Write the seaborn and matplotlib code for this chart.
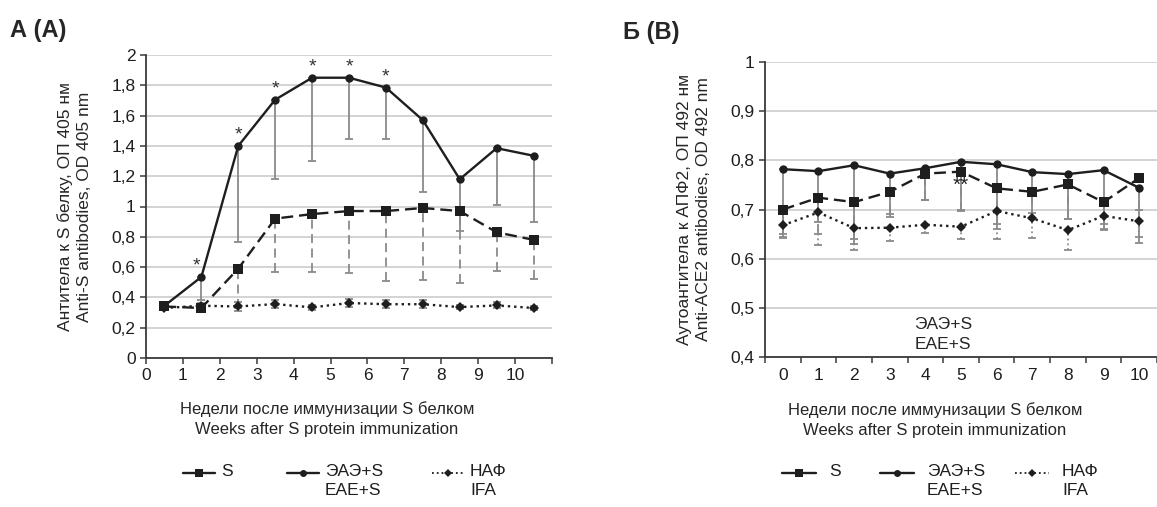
import numpy as np
import pandas as pd
import seaborn as sns
import matplotlib.pyplot as plt
from matplotlib.lines import Line2D

sns.set_theme(style="white")
plt.rcParams['font.family'] = ['Liberation Sans', 'DejaVu Sans']

W, H = 1157, 507

# ---- panel A: anti-S antibodies ----
weeks_a = [0.5, 1.5, 2.5, 3.5, 4.5, 5.5, 6.5, 7.5, 8.5, 9.5, 10.5]
s_a = [0.34, 0.33, 0.59, 0.92, 0.95, 0.97, 0.97, 0.99, 0.97, 0.83, 0.78]
s_a_low = [0.34, 0.33, 0.33, 0.57, 0.57, 0.56, 0.51, 0.515, 0.495, 0.574, 0.521]
eae_a = [0.345, 0.535, 1.40, 1.705, 1.85, 1.85, 1.785, 1.57, 1.18, 1.385, 1.335]
eae_a_low = [0.345, 0.385, 0.763, 1.18, 1.30, 1.444, 1.447, 1.097, 0.835, 1.013, 0.899]
ifa_a = [0.33, 0.345, 0.34, 0.356, 0.334, 0.363, 0.355, 0.355, 0.336, 0.347, 0.33]
ifa_a_err = [0.015, 0.02, 0.03, 0.025, 0.015, 0.025, 0.025, 0.025, 0.015, 0.02, 0.015]
stars_a = [1.5, 2.5, 3.5, 4.5, 5.5, 6.5]

# ---- panel B: anti-ACE2 autoantibodies ----
weeks_b = [0, 1, 2, 3, 4, 5, 6, 7, 8, 9, 10]
s_b = [0.700, 0.724, 0.715, 0.736, 0.773, 0.777, 0.743, 0.736, 0.751, 0.715, 0.764]
s_b_low = [0.65, 0.651, 0.64, 0.69, 0.719, 0.697, 0.67, 0.68, 0.680, 0.67, 0.70]
eae_b = [0.782, 0.778, 0.790, 0.773, 0.784, 0.797, 0.792, 0.776, 0.772, 0.780, 0.744]
eae_b_low = [0.645, 0.675, 0.63, 0.684, 0.72, 0.70, 0.66, 0.692, 0.68, 0.66, 0.631]
ifa_b = [0.668, 0.694, 0.662, 0.663, 0.669, 0.665, 0.697, 0.682, 0.658, 0.687, 0.676]
ifa_b_low = [0.642, 0.628, 0.617, 0.636, 0.653, 0.640, 0.640, 0.642, 0.618, 0.658, 0.644]

xlabel = "Недели после иммунизации S белком\nWeeks after S protein immunization"
lab_s, lab_eae, lab_ifa = "S", "ЭАЭ+S\nEAE+S", "НАФ\nIFA"

line_c = "#1e1e1e"
err_c = "#8a8a8a"
dash_s = (0, (5, 2.5))


def fmt(v):
    s = ("%.1f" % v).rstrip("0").rstrip(".")
    return s.replace(".", ",")


def fx(px):
    return px / W


def fy(py):
    return 1 - py / H


def draw_series(ax, x, y, low, up, ls, marker, ms, err_ls):
    df = pd.DataFrame({"x": x, "y": y})
    y = np.array(y)
    lower = y - np.array(low)
    upper = np.array(up)
    eb = ax.errorbar(x, y, yerr=[lower, upper], fmt="none", ecolor=err_c,
                     elinewidth=1.3, capsize=3, capthick=1.3, zorder=2)
    eb[2][0].set_linestyle(err_ls)
    sns.lineplot(data=df, x="x", y="y", ax=ax, color=line_c, lw=1.7,
                 linestyle=ls, marker=marker, markersize=ms,
                 markeredgewidth=0, zorder=3, legend=False)


def style_axes(ax):
    ax.grid(axis="y", color="#c8c8c8", lw=1.1)
    ax.set_axisbelow(True)
    for side in ["top", "right"]:
        ax.spines[side].set_visible(False)
    for side in ["left", "bottom"]:
        ax.spines[side].set_color("#3a3a3a")
        ax.spines[side].set_linewidth(1.3)
    ax.tick_params(axis="both", which="both", direction="out", colors="#3a3a3a",
                   labelcolor="#1e1e1e", labelsize=12.5, length=4, width=1.1,
                   left=True, bottom=True)
    ax.set_xlabel("")


def add_legend(starts, hlen, gap, y):
    # legend row drawn by hand: handle on the first text line, second line below
    styles = [
        dict(ls="-", marker="s", ms=6, lw=1.7),
        dict(ls="-", marker="o", ms=5, lw=1.7),
        dict(ls=":", marker="D", ms=4, lw=1.3),
    ]
    labels = [lab_s, lab_eae, lab_ifa]
    for x0, st, lab in zip(starts, styles, labels):
        fig.add_artist(Line2D([fx(x0), fx(x0 + hlen / 2), fx(x0 + hlen)], [fy(y)] * 3,
                              color=line_c, markevery=[1], markeredgewidth=0,
                              transform=fig.transFigure, **st))
        fig.text(fx(x0 + hlen + gap), fy(y - 9), lab, ha="left", va="top",
                 fontsize=12.5, linespacing=1.35, color="#1e1e1e")


fig = plt.figure(figsize=(W / 100, H / 100), dpi=100)

# panel A
axa = fig.add_axes([fx(146), fy(358), fx(552 - 146), (358 - 55) / H])
draw_series(axa, weeks_a, s_a, s_a_low, [0] * 11, dash_s, "s", 6.5, (0, (5, 3)))
draw_series(axa, weeks_a, eae_a, eae_a_low, [0] * 11, "-", "o", 6, "-")
draw_series(axa, weeks_a, ifa_a, np.array(ifa_a) - np.array(ifa_a_err), ifa_a_err,
            ":", "D", 5, ":")
for w in stars_a:
    v = eae_a[weeks_a.index(w)]
    dx = -0.12 if w == 1.5 else 0
    axa.text(w + dx, v + 0.015, "*", ha="center", va="bottom", fontsize=14, color="#333333")
style_axes(axa)
axa.set_xlim(0, 11)
axa.set_ylim(0, 2)
axa.set_xticks(range(12))
axa.set_xticklabels([str(i) for i in range(11)] + [""])
yt = np.arange(0, 2.01, 0.2)
axa.set_yticks(yt)
axa.set_yticklabels([fmt(v) for v in yt])
axa.set_ylabel("Антитела к S белку, ОП 405 нм\nAnti-S antibodies, OD 405 nm",
               fontsize=12.5, labelpad=14, linespacing=1.3)
fig.text(fx(327), fy(419), xlabel, ha="center", va="center",
         fontsize=12, linespacing=1.4)
add_legend([183, 287, 432], 32, 6, 473)
fig.text(fx(10), fy(30), "А (А)", fontsize=17, fontweight="bold", va="center")

# panel B
axb = fig.add_axes([fx(765), fy(357), fx(1157 - 765), (357 - 62) / H])
draw_series(axb, weeks_b, s_b, s_b_low, [0] * 11, dash_s, "s", 6.5, (0, (5, 3)))
draw_series(axb, weeks_b, eae_b, eae_b_low, [0] * 11, "-", "o", 6, "-")
draw_series(axb, weeks_b, ifa_b, ifa_b_low, [0] * 11, ":", "D", 5, ":")
axb.text(5, 0.750, "**", ha="center", va="center", fontsize=15, color="#222222", zorder=5)
axb.text(4.5, 0.445, lab_eae, ha="center", va="center", fontsize=12.5, linespacing=1.4)
style_axes(axb)
axb.set_xlim(-0.5, 10.5)
axb.set_ylim(0.4, 1.0)
axb.set_xticks(weeks_b)
axb.set_xticklabels([str(w) for w in weeks_b])
axb.set_xticks(np.arange(-0.5, 10.6, 1), minor=True)
axb.tick_params(axis="x", which="major", length=0, pad=8)
axb.tick_params(axis="x", which="minor", length=4)
ytb = np.arange(0.4, 1.001, 0.1)
axb.set_yticks(ytb)
axb.set_yticklabels([fmt(v) for v in ytb])
axb.set_ylabel("Аутоантитела к АПФ2, ОП 492 нм\nAnti-ACE2 antibodies, OD 492 nm",
               fontsize=12.5, labelpad=14, linespacing=1.3)
fig.text(fx(935), fy(420), xlabel, ha="center", va="center",
         fontsize=12, linespacing=1.4)
add_legend([782, 880, 1015], 34, 13, 473)
fig.text(fx(623), fy(32), "Б (B)", fontsize=17, fontweight="bold", va="center")

fig.savefig("out.png", dpi=100)
